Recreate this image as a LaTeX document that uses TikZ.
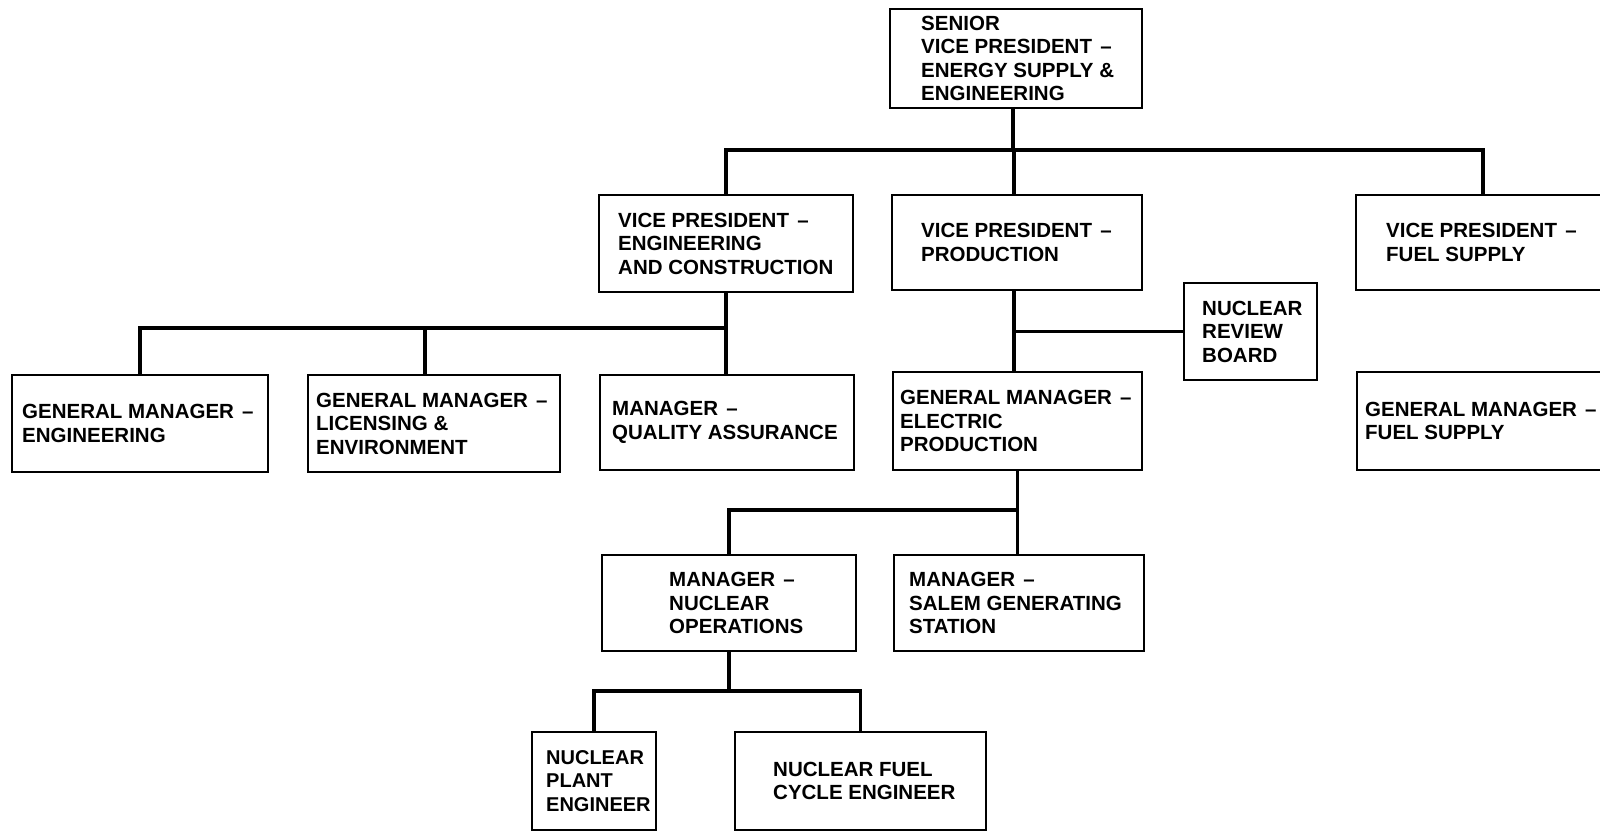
\documentclass[tikz,border=0pt]{standalone}
\usepackage{fontspec}
\setmainfont{Liberation Sans}
\usetikzlibrary{calc}
\tikzset{
 orgbox/.style={draw, line width=2pt, anchor=north west, inner sep=0pt},
 orgtext/.style={anchor=west, align=left, inner sep=0pt, font=\bfseries\fontsize{20.5}{23.5}\selectfont},
 link/.style={line width=3.5pt},
}
\newcommand{\dsh}{\hspace{0.4em}--}

\begin{document}
\begin{tikzpicture}[x=1pt,y=-1pt]
\path[use as bounding box, fill=white] (0,0) rectangle (1600,832);
% boxes
\node[orgbox, minimum width=252, minimum height=99] (svp) at (889,8) {};
\node[orgtext] (svpT) at ([xshift=32]svp.west) {SENIOR\\VICE PRESIDENT\dsh\\ENERGY SUPPLY \&\\ENGINEERING};
\node[orgbox, minimum width=254, minimum height=97] (vpec) at (598,194) {};
\node[orgtext] (vpecT) at ([xshift=20]vpec.west) {VICE PRESIDENT\dsh\\ENGINEERING\\AND CONSTRUCTION};
\node[orgbox, minimum width=250, minimum height=95] (vpp) at (891,194) {};
\node[orgtext] (vppT) at ([xshift=30]vpp.west) {VICE PRESIDENT\dsh\\PRODUCTION};
\node[orgbox, minimum width=254, minimum height=95] (vpfs) at (1355,194) {};
\node[orgtext] (vpfsT) at ([xshift=31]vpfs.west) {VICE PRESIDENT\dsh\\FUEL SUPPLY};
\node[orgbox, minimum width=256, minimum height=97] (gme) at (11,374) {};
\node[orgtext] (gmeT) at ([xshift=11]gme.west) {GENERAL MANAGER\dsh\\ENGINEERING};
\node[orgbox, minimum width=252, minimum height=97] (gmle) at (307,374) {};
\node[orgtext] (gmleT) at ([xshift=9]gmle.west) {GENERAL MANAGER\dsh\\LICENSING \&\\ENVIRONMENT};
\node[orgbox, minimum width=254, minimum height=95] (mqa) at (599,374) {};
\node[orgtext] (mqaT) at ([xshift=13]mqa.west) {MANAGER\dsh\\QUALITY ASSURANCE};
\node[orgbox, minimum width=133, minimum height=97] (nrb) at (1183,282) {};
\node[orgtext] (nrbT) at ([xshift=19]nrb.west) {NUCLEAR\\REVIEW\\BOARD};
\node[orgbox, minimum width=249, minimum height=98] (gmep) at (892,371) {};
\node[orgtext] (gmepT) at ([xshift=8]gmep.west) {GENERAL MANAGER\dsh\\ELECTRIC\\PRODUCTION};
\node[orgbox, minimum width=254, minimum height=98] (gmfs) at (1356,371) {};
\node[orgtext] (gmfsT) at ([xshift=9]gmfs.west) {GENERAL MANAGER\dsh\\FUEL SUPPLY};
\node[orgbox, minimum width=254, minimum height=96] (mno) at (601,554) {};
\node[orgtext] (mnoT) at ([xshift=68]mno.west) {MANAGER\dsh\\NUCLEAR\\OPERATIONS};
\node[orgbox, minimum width=250, minimum height=96] (msgs) at (893,554) {};
\node[orgtext] (msgsT) at ([xshift=16]msgs.west) {MANAGER\dsh\\SALEM GENERATING\\STATION};
\node[orgbox, minimum width=124, minimum height=98] (npe) at (531,731) {};
\node[orgtext, font=\bfseries\fontsize{20}{23.5}\selectfont] (npeT) at ([xshift=15]npe.west) {NUCLEAR\\PLANT\\ENGINEER};
\node[orgbox, minimum width=251, minimum height=98] (nfce) at (734,731) {};
\node[orgtext] (nfceT) at ([xshift=39]nfce.west) {NUCLEAR FUEL\\CYCLE ENGINEER};
% connectors
\coordinate (bus1) at (0,150);
\coordinate (bus2) at (0,328);
\coordinate (bus3) at (0,510);
\coordinate (bus4) at (0,691);
\draw[link] ([xshift=-3]svp.south) -- ([xshift=-3]svp.south |- bus1);
\draw[link] (vpec.north) |- (vpfs.north |- bus1) -- (vpfs.north);
\draw[link] ([xshift=-3]vpp.north) -- ([xshift=-3]vpp.north |- bus1);
\draw[link] (vpec.south) -- (vpec.south |- mqa.north);
\draw[link] (gme.north) |- (vpec.south |- bus2);
\draw[link] ([xshift=-9]gmle.north) -- ([xshift=-9]gmle.north |- bus2);
\draw[link] ([xshift=-3]vpp.south) -- ([xshift=-3]vpp.south |- gmep.north);
\draw[link] (nrb.west) -- ([xshift=-3]nrb.west -| vpp.south);
\draw[link] (gmep.south) -- (gmep.south |- msgs.north);
\draw[link] (mno.north) |- (gmep.south |- bus3);
\draw[link] (mno.south) -- (mno.south |- bus4);
\draw[link] (npe.north) |- (nfce.north |- bus4) -- (nfce.north);
\end{tikzpicture}
\end{document}
